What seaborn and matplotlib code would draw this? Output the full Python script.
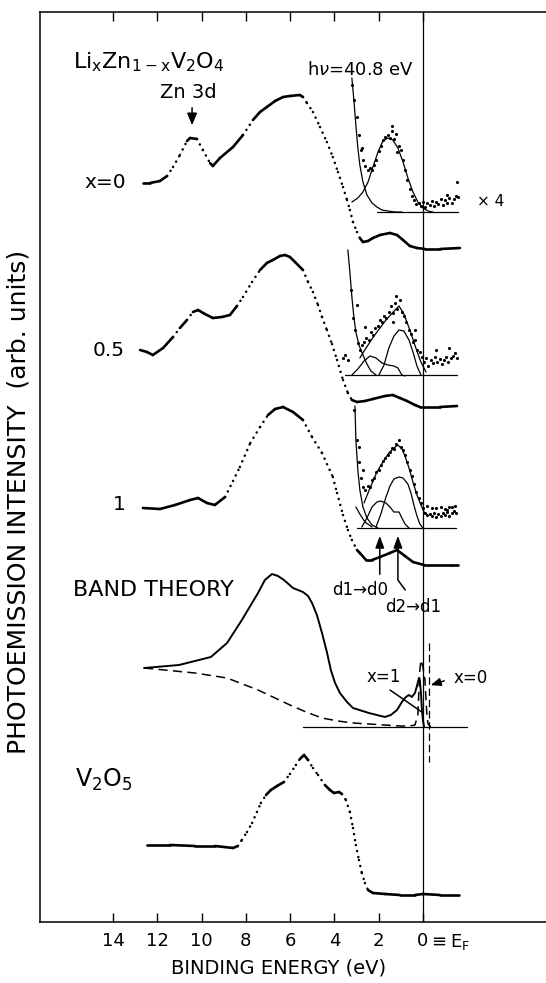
import numpy as np
import matplotlib
matplotlib.use("Agg")
import matplotlib.pyplot as plt
import seaborn as sns
from matplotlib.collections import LineCollection

sns.set_theme(style="white")
plt.rcParams['font.family'] = ['DejaVu Sans']
plt.rcParams['mathtext.fontset'] = 'dejavusans'
plt.rcParams['text.color'] = 'black'
plt.rcParams['xtick.color'] = 'black'
plt.rcParams['axes.labelcolor'] = 'black'

# ---------------- data (binding energy in eV, intensity in arb. units) ----------------
be_x0 = [12.65, 12.33, 11.88, 11.56, 11.29, 10.98, 10.66, 10.52, 10.21, 9.94, 9.62, 9.49, 9.17, 8.58, 8.13,
         7.68, 7.36, 7.05, 6.68, 6.32, 6.01, 5.56, 5.42, 5.24, 4.97, 4.65, 4.34, 4.07, 3.84, 3.61, 3.43, 3.30,
         3.16, 2.98, 2.85, 2.71, 2.48, 2.26, 1.94, 1.49, 1.17, 0.90, 0.59, 0.27, -0.09, -0.77, -1.67]
i_x0 = [739, 739, 741, 746, 755, 767, 781, 784, 783, 772, 759, 756, 764, 775, 787, 802, 810, 815, 821, 825,
        826, 827, 825, 819, 810, 795, 780, 765, 750, 735, 722, 712, 700, 690, 684, 680, 681, 684, 687, 689,
        687, 682, 676, 674, 673, 673, 674]

be_x05 = [12.78, 12.47, 12.20, 11.74, 11.29, 10.98, 10.66, 10.39, 10.16, 9.85, 9.49, 9.08, 8.72, 8.40, 8.13,
          7.72, 7.36, 7.05, 6.78, 6.46, 6.23, 6.01, 5.78, 5.42, 5.19, 4.97, 4.74, 4.56, 4.34, 4.11, 3.88, 3.61,
          3.39, 3.21, 2.98, 2.62, 2.26, 1.72, 1.36, 1.04, 0.72, 0.36, 0.14, -0.77, -1.54]
i_x05 = [572, 570, 567, 574, 585, 594, 602, 610, 612, 608, 604, 605, 607, 616, 625, 640, 652, 659, 662, 666,
         667, 665, 660, 652, 640, 630, 617, 605, 592, 578, 562, 542, 529, 522, 520, 521, 523, 526, 527, 524,
         521, 517, 515, 515, 516]

be_x1 = [12.65, 11.88, 11.20, 10.52, 10.16, 9.76, 9.40, 8.94, 8.58, 8.27, 7.80, 7.36, 7.00, 6.68, 6.32, 5.87,
         5.42, 5.01, 4.56, 4.07, 3.88, 3.61, 3.39, 3.21, 2.98, 2.85, 2.57, 2.30, 1.94, 1.49, 1.17, 0.81, 0.45,
         -0.05, -1.31, -1.58]
i_x1 = [414, 413, 417, 422, 424, 419, 417, 425, 441, 455, 479, 495, 507, 513, 515, 510, 502, 485, 469, 445,
        429, 407, 392, 382, 372, 369, 362, 362, 365, 369, 372, 366, 360, 357, 357, 357]

be_v2o5 = [12.47, 11.43, 10.30, 9.39, 8.58, 8.36, 8.18, 7.95, 7.72, 7.50, 7.32, 7.09, 6.87, 6.59, 6.28, 6.01,
           5.74, 5.56, 5.37, 5.19, 4.97, 4.74, 4.43, 4.20, 4.02, 3.79, 3.66, 3.48, 3.30, 3.16, 3.03, 2.89, 2.76,
           2.62, 2.48, 2.26, 1.72, 1.04, 0.36, 0.0, -0.77, -1.63]
i_v2o5 = [77, 77, 76, 76, 74, 76, 82, 90, 99, 110, 119, 127, 132, 136, 140, 148, 157, 163, 167, 162, 154, 147,
          137, 132, 129, 130, 128, 122, 110, 94, 77, 62, 49, 39, 32, 29, 28, 27, 27, 28, 27, 27]

# band theory (x=1 solid, x=0 dashed)
be_bt1 = [12.60, 11.02, 9.58, 8.85, 8.18, 7.45, 7.14, 6.82, 6.55, 6.28, 5.87, 5.42, 5.19, 5.01, 4.79, 4.56,
          4.34, 4.16, 3.97, 3.75, 3.43, 3.16, 2.44, 1.72, 1.45, 1.17, 0.95, 0.77, 0.63, 0.50, 0.36, 0.27, 0.18,
          0.14, 0.09, 0.05, 0.0, -0.05]
i_bt1 = [254, 257, 265, 279, 302, 329, 342, 348, 346, 342, 334, 330, 326, 319, 307, 289, 270, 252, 239, 229,
         220, 214, 209, 205, 207, 212, 220, 225, 227, 225, 229, 236, 244, 242, 229, 214, 202, 195]
be_bt0 = [12.60, 10.30, 8.85, 7.45, 6.68, 6.01, 5.28, 4.56, 3.84, 3.16, 2.44, 1.72, 1.04, 0.59, 0.36, 0.23,
          0.18, 0.14, 0.09, 0.0, -0.09, -0.14, -0.18, -0.23, -0.36]
i_bt0 = [254, 249, 244, 232, 224, 217, 210, 204, 201, 199, 198, 197, 196, 196, 197, 207, 232, 252, 262, 255,
         242, 222, 207, 198, 195]
be_bt_base = [5.42, -1.99]
i_bt_base = [195, 195]
be_bt_ef0 = [-0.27, -0.27]
i_bt_ef0 = [279, 160]

# x=0 inset (x4)
be_d0 = [3.2, 3.1, 3.0, 2.9, 2.8, 2.7, 2.6, 2.5, 2.4, 2.3, 2.2, 2.1, 2.0, 1.9, 1.8, 1.7, 1.6, 1.5, 1.4, 1.3,
         1.2, 1.1, 1.0, 0.9, 0.8, 0.7, 0.6, 0.5, 0.4, 0.3, 0.2, 0.1, 0.0, -0.1, -0.2, -0.3, -0.4, -0.5, -0.6,
         -0.7, -0.8, -0.9, -1.0, -1.1, -1.2, -1.3, -1.4, -1.5, -1.6, 1.4, 1.15, -1.53, -1.1, 2.75]
i_d0 = [837, 822, 805, 787, 772, 762, 756, 752, 754, 752, 757, 762, 771, 776, 782, 785, 787, 784, 791, 783,
        788, 776, 772, 762, 752, 742, 733, 726, 722, 718, 719, 716, 720, 715, 719, 717, 721, 716, 720, 718,
        723, 717, 722, 719, 724, 719, 723, 726, 725, 796, 770, 740, 727, 774]
be_bg0 = [3.21, 3.12, 3.03, 2.94, 2.85, 2.71, 2.53, 2.30, 2.08, 1.85, 1.58, 1.26, 0.95]
i_bg0 = [844, 822, 797, 774, 757, 740, 727, 719, 715, 712, 711, 710, 710]
be_g0 = [3.21, 2.94, 2.71, 2.48, 2.26, 2.03, 1.81, 1.58, 1.36, 1.13, 0.90, 0.68, 0.45, 0.23, 0.0, -0.23, -0.45]
i_g0 = [720, 724, 730, 740, 755, 770, 781, 784, 782, 774, 760, 744, 730, 720, 714, 711, 710]
be_base0 = [2.08, -1.58]
i_base0 = [710, 710]

# x=0.5 inset
be_d05 = [3.6, 3.5, 3.4, 3.25, 3.15, 3.05, 2.95, 2.85, 2.75, 2.65, 2.55, 2.45, 2.35, 2.25, 2.15, 2.05, 1.95,
          1.85, 1.75, 1.65, 1.55, 1.45, 1.35, 1.25, 1.15, 1.05, 0.95, 0.85, 0.75, 0.65, 0.55, 0.45, 0.35, 0.25,
          0.15, 0.05, -0.05, -0.15, -0.25, -0.35, -0.45, -0.55, -0.65, -0.75, -0.85, -0.95, -1.05, -1.15,
          -1.25, -1.35, -1.45, -1.55, 3.0, 2.6, 1.2, 1.35, -0.6, -1.2, 0.35]
i_d05 = [564, 567, 562, 632, 604, 592, 579, 572, 577, 580, 584, 582, 590, 587, 594, 596, 602, 600, 606, 604,
         610, 616, 609, 619, 613, 622, 610, 606, 600, 592, 588, 580, 582, 572, 570, 565, 560, 564, 556, 562,
         559, 565, 560, 563, 558, 562, 565, 560, 564, 566, 569, 564, 617, 595, 626, 600, 572, 574, 592]
be_bg05 = [3.39, 3.30, 3.21, 3.12, 3.03, 2.89, 2.71, 2.53, 2.35, 2.12]
i_bg05 = [672, 650, 625, 605, 590, 577, 567, 558, 551, 547]
be_ca05 = [3.21, 2.94, 2.66, 2.39, 2.12, 1.85, 1.58, 1.31, 1.13, 0.95, 0.81]
i_ca05 = [547, 553, 561, 566, 564, 559, 557, 556, 554, 547, 546]
be_cb05 = [1.99, 1.76, 1.54, 1.31, 1.08, 0.86, 0.63, 0.45, 0.27, 0.09]
i_cb05 = [547, 557, 574, 586, 592, 591, 582, 570, 556, 547]
be_sum05 = [2.85, 2.57, 2.21, 1.67, 1.26, 1.08, 0.86, 0.59, 0.32, 0.09, -0.14]
i_sum05 = [564, 574, 586, 602, 612, 616, 608, 592, 574, 560, 550]
be_base05 = [3.52, -1.54]
i_base05 = [547, 547]

# x=1 inset
be_d1 = [3.1, 3.0, 2.9, 2.8, 2.7, 2.6, 2.5, 2.4, 2.3, 2.2, 2.1, 2.0, 1.9, 1.8, 1.7, 1.6, 1.5, 1.4, 1.3, 1.2,
         1.1, 1.0, 0.9, 0.8, 0.7, 0.6, 0.5, 0.4, 0.3, 0.2, 0.1, 0.0, -0.1, -0.2, -0.3, -0.4, -0.5, -0.6, -0.7,
         -0.8, -0.9, -1.0, -1.1, -1.2, -1.3, -1.4, -1.5, 2.71, 2.89, -1.31, -0.59, -0.81, -1.08, -0.2, -0.4,
         -1.0, -1.2, -1.45]
i_d1 = [512, 482, 460, 444, 435, 432, 436, 435, 442, 444, 450, 452, 457, 461, 464, 467, 470, 474, 473, 478,
        482, 475, 472, 467, 460, 452, 446, 438, 430, 424, 419, 414, 409, 407, 408, 406, 409, 405, 408, 406,
        409, 407, 410, 406, 409, 411, 409, 452, 475, 415, 414, 415, 412, 416, 414, 413, 415, 416]
be_bg1 = [3.07, 3.03, 2.94, 2.85, 2.71, 2.53, 2.30, 2.03]
i_bg1 = [516, 482, 452, 432, 415, 404, 397, 394]
be_cl1 = [3.03, 2.85, 2.62, 2.30]
i_cl1 = [415, 408, 400, 395]
be_ca1 = [2.76, 2.53, 2.30, 2.08, 1.90, 1.67, 1.49, 1.31, 1.08, 0.95, 0.81, 0.63]
i_ca1 = [395, 404, 415, 420, 421, 419, 415, 410, 410, 404, 398, 394]
be_cb1 = [2.12, 1.90, 1.67, 1.49, 1.31, 1.08, 0.90, 0.68, 0.54, 0.41, 0.27, 0.14, 0.0]
i_cb1 = [395, 408, 425, 436, 443, 445, 444, 438, 429, 417, 406, 398, 394]
be_sum1 = [2.66, 2.39, 2.08, 1.81, 1.54, 1.31, 1.13, 0.95, 0.81, 0.63, 0.45, 0.27, 0.09, -0.05, -0.18]
i_sum1 = [419, 434, 450, 460, 469, 474, 477, 473, 466, 454, 440, 427, 417, 410, 407]
be_base1 = [3.0, -1.49]
i_base1 = [394, 394]

xticks = [14, 12, 10, 8, 6, 4, 2, 0]
xtick_labels = ['14', '12', '10', '8', '6', '4', '2', '0']

# ---------------- figure ----------------
fig = plt.figure(figsize=(5.46, 9.83), dpi=100)
ax = fig.add_axes([40 / 546, 61 / 983, 506 / 546, 910 / 983])
ax.set_xlim(17.30, -5.56)
ax.set_ylim(0, 910)
ax.set_facecolor('white')
fig.patch.set_facecolor('white')

K = 'black'


def spectrum(be, inten, lw=1.9):
    be = np.asarray(be, float)
    inten = np.asarray(inten, float)
    pts = ax.transData.transform(np.column_stack([be, inten]))
    d = np.diff(pts, axis=0)
    steep = np.abs(d[:, 1]) > 1.3 * np.abs(d[:, 0])
    segs = np.stack([np.column_stack([be[:-1], inten[:-1]]),
                     np.column_stack([be[1:], inten[1:]])], axis=1)
    ax.add_collection(LineCollection(segs[~steep], colors=K, linewidths=lw, capstyle='round'))
    ax.add_collection(LineCollection(segs[steep], colors=K, linewidths=lw * 0.95,
                                     linestyles=[(0, (0.05, 2.4))], capstyle='round'))


def thin(be, inten, lw=0.9):
    sns.lineplot(x=be, y=inten, sort=False, estimator=None, color=K, lw=lw, ax=ax, legend=False)


def dots(be, inten):
    sns.scatterplot(x=be, y=inten, s=5, color=K, linewidth=0, ax=ax, legend=False)


spectrum(be_x0, i_x0)
spectrum(be_x05, i_x05)
spectrum(be_x1, i_x1)
spectrum(be_v2o5, i_v2o5)

# insets
for be, it in [(be_bg0, i_bg0), (be_g0, i_g0), (be_base0, i_base0),
               (be_bg05, i_bg05), (be_ca05, i_ca05), (be_cb05, i_cb05), (be_sum05, i_sum05),
               (be_base05, i_base05),
               (be_bg1, i_bg1), (be_cl1, i_cl1), (be_ca1, i_ca1), (be_cb1, i_cb1), (be_sum1, i_sum1),
               (be_base1, i_base1)]:
    thin(be, it)
dots(be_d0, i_d0)
dots(be_d05, i_d05)
dots(be_d1, i_d1)

# band theory
sns.lineplot(x=be_bt1, y=i_bt1, sort=False, estimator=None, color=K, lw=1.4, ax=ax, legend=False)
ax.plot(be_bt0, i_bt0, color=K, lw=1.1, linestyle=(0, (6, 3.5)))
ax.plot(be_bt_base, i_bt_base, color=K, lw=0.9)
ax.plot(be_bt_ef0, i_bt_ef0, color=K, lw=0.9, linestyle=(0, (6, 3)))

# Fermi level line
ax.axvline(0, color=K, lw=0.9)

# labels
ax.text(15.81, 860, r'$\mathrm{Li_xZn_{1-x}V_2O_4}$', fontsize=16, ha='left', va='center')
ax.text(10.6, 829, 'Zn 3d', fontsize=14, ha='center', va='center')
ax.annotate('', xy=(10.43, 794), xytext=(10.43, 817),
            arrowprops=dict(arrowstyle='-|>,head_length=0.6,head_width=0.25', color=K, lw=1.1))
ax.text(2.8, 852, r'h$\nu$=40.8 eV', fontsize=13, ha='center', va='center')
ax.text(-2.45, 720, '× 4', fontsize=11, ha='left', va='center')
ax.text(13.41, 739, 'x=0', fontsize=14.5, ha='right', va='center')
ax.text(13.46, 572, '0.5', fontsize=14.5, ha='right', va='center')
ax.text(13.41, 417, '1', fontsize=14.5, ha='right', va='center')
ax.text(15.81, 332, 'BAND THEORY', fontsize=16, ha='left', va='center')
ax.text(15.72, 142, r'$\mathrm{V_2O_5}$', fontsize=17, ha='left', va='center')

ax.text(2.85, 332, 'd1→d0', fontsize=12, ha='center', va='center')
ax.text(0.45, 315, 'd2→d1', fontsize=12, ha='center', va='center')
ax.annotate('', xy=(1.95, 389), xytext=(1.95, 345),
            arrowprops=dict(arrowstyle='-|>,head_length=0.6,head_width=0.22', color=K, lw=1.1))
ax.plot([0.8, 1.13, 1.13], [332, 342, 370], color=K, lw=1.1)
ax.annotate('', xy=(1.13, 389), xytext=(1.13, 368),
            arrowprops=dict(arrowstyle='-|>,head_length=0.6,head_width=0.22', color=K, lw=1.1))

ax.text(1.76, 245, 'x=1', fontsize=12, ha='center', va='center')
ax.plot([1.49, 0.05], [232, 210], color=K, lw=1.1)
ax.text(-1.40, 244, 'x=0', fontsize=12, ha='left', va='center')
ax.annotate('', xy=(-0.23, 236), xytext=(-1.08, 242),
            arrowprops=dict(arrowstyle='-|>,head_length=0.5,head_width=0.2', color=K, lw=1.1))

# axes styling
for s in ['left', 'bottom', 'top']:
    ax.spines[s].set_visible(True)
    ax.spines[s].set_color(K)
    ax.spines[s].set_linewidth(1.1)
ax.spines['right'].set_visible(False)
ax.set_yticks([])
ax.set_xticks(xticks)
ax.set_xticklabels(xtick_labels, fontsize=13, color=K)
ax.tick_params(axis='x', direction='in', length=6.5, width=1.0, color=K, top=True, bottom=True,
               labeltop=False, pad=7)
ax.text(-0.22, -20, r'$\equiv$E$_\mathrm{F}$', fontsize=13, ha='left', va='center', clip_on=False)
ax.text(6.50, -46, 'BINDING ENERGY (eV)', fontsize=14, ha='center', va='center', clip_on=False)
ax.text(18.29, 420, 'PHOTOEMISSION INTENSITY  (arb. units)', fontsize=18, rotation=90,
        ha='center', va='center', clip_on=False)
ax.set_xlabel('')
ax.set_ylabel('')

fig.savefig('out.png', dpi=100, facecolor='white')
